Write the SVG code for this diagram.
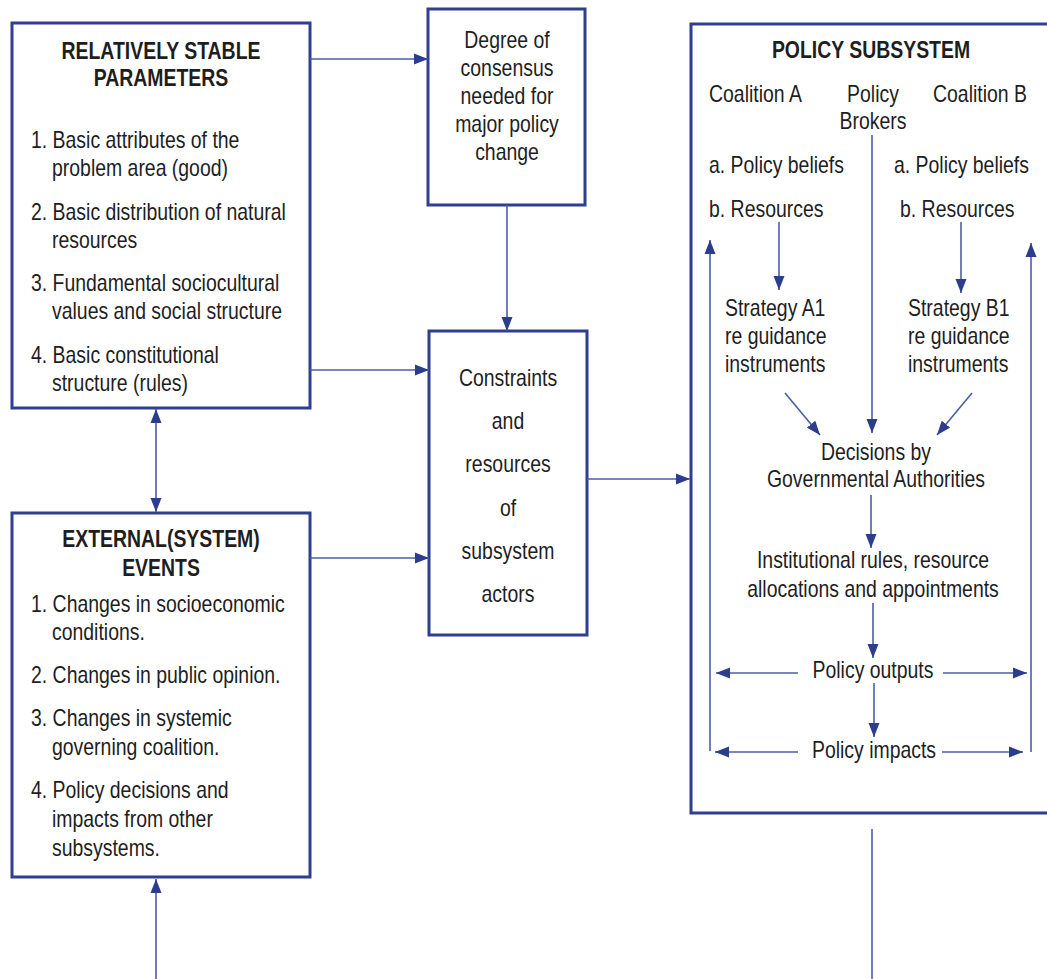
<svg xmlns="http://www.w3.org/2000/svg" width="1047" height="979" viewBox="0 0 1047 979">
<style>
.box{fill:#ffffff;stroke:#2e3f8f;stroke-width:3}
.t{font-family:"Liberation Sans",Arial,sans-serif;font-size:23px;fill:#1e1e1e}
.b{font-family:"Liberation Sans",Arial,sans-serif;font-size:23px;font-weight:bold;fill:#1e1e1e}
.m{text-anchor:middle}
.c{fill:none;stroke:#4a5ea6;stroke-width:1.6}
</style>
<defs>
<marker id="ah" markerUnits="userSpaceOnUse" markerWidth="16" markerHeight="12" refX="14" refY="6" orient="auto-start-reverse">
<path d="M0,0.5 L14,6 L0,11.5 Z" fill="#2b3d8c"/>
</marker>
</defs>
<rect width="1047" height="979" fill="#ffffff"/>

<g id="stable-parameters">
<rect class="box" x="12" y="23" width="298" height="385"/>
<text class="b m" transform="translate(161,59) scale(0.845,1)">RELATIVELY STABLE</text>
<text class="b m" transform="translate(161,86) scale(0.845,1)">PARAMETERS</text>
<text class="t" transform="translate(31,148) scale(0.845,1)">1. Basic attributes of the</text>
<text class="t" transform="translate(52,176) scale(0.845,1)">problem area (good)</text>
<text class="t" transform="translate(31,220) scale(0.845,1)">2. Basic distribution of natural</text>
<text class="t" transform="translate(52,248) scale(0.845,1)">resources</text>
<text class="t" transform="translate(31,291) scale(0.845,1)">3. Fundamental sociocultural</text>
<text class="t" transform="translate(52,319) scale(0.845,1)">values and social structure</text>
<text class="t" transform="translate(31,363) scale(0.845,1)">4. Basic constitutional</text>
<text class="t" transform="translate(52,391) scale(0.845,1)">structure (rules)</text>
</g>

<g id="external-events">
<rect class="box" x="12" y="513" width="298" height="364"/>
<text class="b m" transform="translate(161,547) scale(0.845,1)">EXTERNAL(SYSTEM)</text>
<text class="b m" transform="translate(161,576) scale(0.845,1)">EVENTS</text>
<text class="t" transform="translate(31,612) scale(0.845,1)">1. Changes in socioeconomic</text>
<text class="t" transform="translate(52,640) scale(0.845,1)">conditions.</text>
<text class="t" transform="translate(31,683) scale(0.845,1)">2. Changes in public opinion.</text>
<text class="t" transform="translate(31,726) scale(0.845,1)">3. Changes in systemic</text>
<text class="t" transform="translate(52,755) scale(0.845,1)">governing coalition.</text>
<text class="t" transform="translate(31,798) scale(0.845,1)">4. Policy decisions and</text>
<text class="t" transform="translate(52,827) scale(0.845,1)">impacts from other</text>
<text class="t" transform="translate(52,856) scale(0.845,1)">subsystems.</text>
</g>

<g id="degree-consensus">
<rect class="box" x="428" y="9" width="157" height="196"/>
<text class="t m" transform="translate(507,48) scale(0.845,1)">Degree of</text>
<text class="t m" transform="translate(507,76) scale(0.845,1)">consensus</text>
<text class="t m" transform="translate(507,104) scale(0.845,1)">needed for</text>
<text class="t m" transform="translate(507,132) scale(0.845,1)">major policy</text>
<text class="t m" transform="translate(507,160) scale(0.845,1)">change</text>
</g>

<g id="constraints-resources">
<rect class="box" x="429" y="331" width="158" height="304"/>
<text class="t m" transform="translate(508,386) scale(0.845,1)">Constraints</text>
<text class="t m" transform="translate(508,429) scale(0.845,1)">and</text>
<text class="t m" transform="translate(508,472) scale(0.845,1)">resources</text>
<text class="t m" transform="translate(508,516) scale(0.845,1)">of</text>
<text class="t m" transform="translate(508,559) scale(0.845,1)">subsystem</text>
<text class="t m" transform="translate(508,602) scale(0.845,1)">actors</text>
</g>

<g id="policy-subsystem">
<rect class="box" x="691" y="24" width="370" height="789"/>
<text class="b m" transform="translate(871,58) scale(0.845,1)">POLICY SUBSYSTEM</text>
<text class="t" transform="translate(709,102) scale(0.845,1)">Coalition A</text>
<text class="t m" transform="translate(873,102) scale(0.845,1)">Policy</text>
<text class="t m" transform="translate(873,129) scale(0.845,1)">Brokers</text>
<text class="t" transform="translate(933,102) scale(0.845,1)">Coalition B</text>
<text class="t" transform="translate(709,173) scale(0.845,1)">a. Policy beliefs</text>
<text class="t" transform="translate(894,173) scale(0.845,1)">a. Policy beliefs</text>
<text class="t" transform="translate(709,217) scale(0.845,1)">b. Resources</text>
<text class="t" transform="translate(900,217) scale(0.845,1)">b. Resources</text>
<text class="t" transform="translate(725,316) scale(0.845,1)">Strategy A1</text>
<text class="t" transform="translate(725,344) scale(0.845,1)">re guidance</text>
<text class="t" transform="translate(725,372) scale(0.845,1)">instruments</text>
<text class="t" transform="translate(908,316) scale(0.845,1)">Strategy B1</text>
<text class="t" transform="translate(908,344) scale(0.845,1)">re guidance</text>
<text class="t" transform="translate(908,372) scale(0.845,1)">instruments</text>
<text class="t m" transform="translate(876,460) scale(0.845,1)">Decisions by</text>
<text class="t m" transform="translate(876,487) scale(0.845,1)">Governmental Authorities</text>
<text class="t m" transform="translate(873,568) scale(0.845,1)">Institutional rules, resource</text>
<text class="t m" transform="translate(873,597) scale(0.845,1)">allocations and appointments</text>
<text class="t m" transform="translate(873,678) scale(0.845,1)">Policy outputs</text>
<text class="t m" transform="translate(874,758) scale(0.845,1)">Policy impacts</text>
</g>

<g id="connectors">
<line class="c" x1="310" y1="59" x2="428" y2="59" marker-end="url(#ah)"/>
<line class="c" x1="310" y1="370" x2="429" y2="370" marker-end="url(#ah)"/>
<line class="c" x1="310" y1="558" x2="429" y2="558" marker-end="url(#ah)"/>
<line class="c" x1="507" y1="205" x2="507" y2="331" marker-end="url(#ah)"/>
<line class="c" x1="587" y1="479" x2="690" y2="479" marker-end="url(#ah)"/>
<line class="c" x1="156" y1="409" x2="156" y2="512" marker-start="url(#ah)" marker-end="url(#ah)"/>
<line class="c" x1="156" y1="985" x2="156" y2="879" marker-end="url(#ah)"/>
<line class="c" x1="872" y1="829" x2="872" y2="985"/>
<line class="c" x1="872" y1="135" x2="872" y2="433" marker-end="url(#ah)"/>
<line class="c" x1="779" y1="222" x2="779" y2="290" marker-end="url(#ah)"/>
<line class="c" x1="961" y1="222" x2="961" y2="293" marker-end="url(#ah)"/>
<line class="c" x1="785" y1="393" x2="820" y2="435" marker-end="url(#ah)"/>
<line class="c" x1="972" y1="393" x2="937" y2="435" marker-end="url(#ah)"/>
<line class="c" x1="871" y1="495" x2="871" y2="548" marker-end="url(#ah)"/>
<line class="c" x1="873" y1="603" x2="873" y2="658" marker-end="url(#ah)"/>
<line class="c" x1="874" y1="683" x2="874" y2="737" marker-end="url(#ah)"/>
<line class="c" x1="798" y1="673" x2="716" y2="673" marker-end="url(#ah)"/>
<line class="c" x1="943" y1="673" x2="1027" y2="673" marker-end="url(#ah)"/>
<line class="c" x1="798" y1="752" x2="715" y2="752" marker-end="url(#ah)"/>
<line class="c" x1="942" y1="752" x2="1023" y2="752" marker-end="url(#ah)"/>
<line class="c" x1="710" y1="751" x2="710" y2="240" marker-end="url(#ah)"/>
<line class="c" x1="1031" y1="752" x2="1031" y2="243" marker-end="url(#ah)"/>
</g>
</svg>
